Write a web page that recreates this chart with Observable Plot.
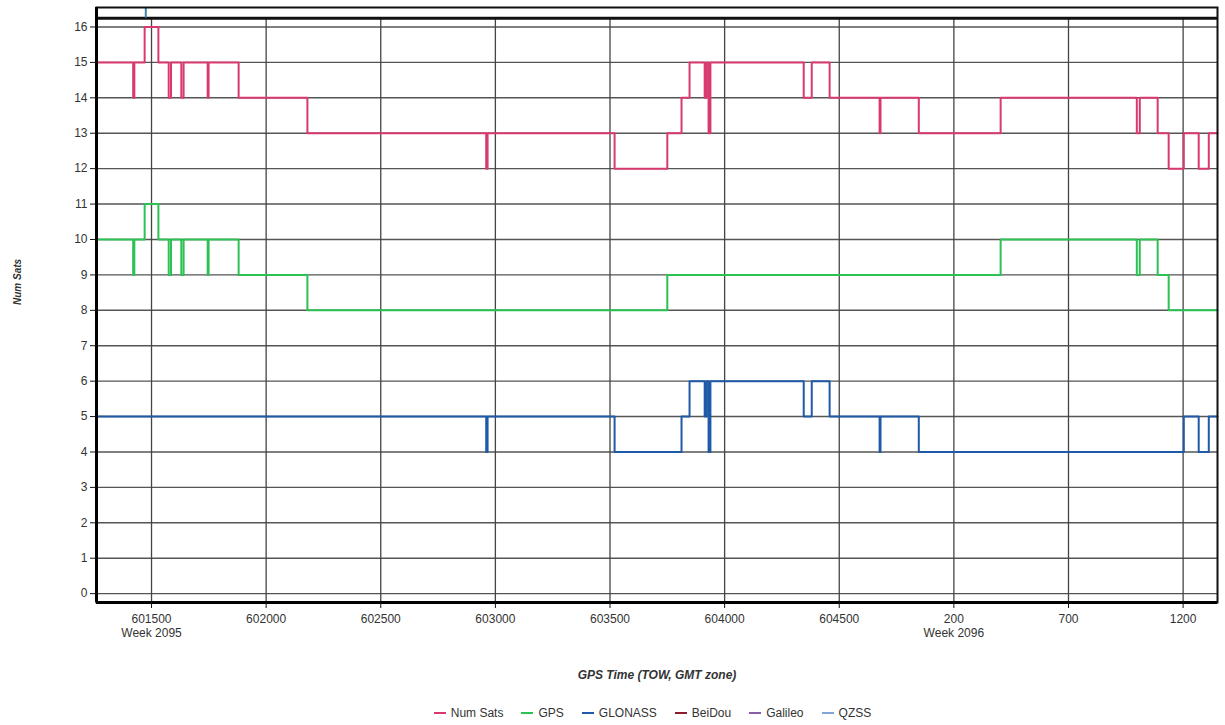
<!DOCTYPE html>
<html><head><meta charset="utf-8">
<script src="https://cdn.jsdelivr.net/npm/d3@7"></script>
<script src="https://cdn.jsdelivr.net/npm/@observablehq/plot@0.6"></script>
<style>
body{margin:0;background:#fff;font-family:"Liberation Sans",Arial,sans-serif;}
#legend{height:25px;display:flex;justify-content:center;align-items:center;font-size:12px;color:#333;gap:18px;padding-left:80px;}
#legend span.sw{display:inline-block;width:12px;height:2px;margin-right:5px;vertical-align:middle;}
</style></head><body>
<div id="chart"></div>
<div id="legend"></div>
<script>
// ---- data (time = seconds of GPS week 2095; values past 604800 belong to week 2096) ----
const seriesNames = ["Num Sats", "GPS", "GLONASS", "BeiDou", "Galileo", "QZSS"];

const numSatsT = [601260,601420,601425,601470,601530,601575,601585,601630,601640,601745,601749,601880,602180,602960,602966,603520,603750,603812,603847,603913,603921,603930,603938,604345,604380,604458,604676,604680,604847,605204,605798,605811,605889,605937,606003,606068,606112,606150];
const numSatsV = [15,14,15,16,15,14,15,14,15,14,15,14,13,12,13,12,13,14,15,14,15,13,15,14,15,14,13,14,13,14,13,14,13,12,13,12,13,13];

const gpsT = [601260,601420,601425,601470,601530,601575,601585,601630,601640,601745,601749,601880,602180,603750,605204,605798,605811,605889,605937,606150];
const gpsV = [10,9,10,11,10,9,10,9,10,9,10,9,8,9,10,9,10,9,8,8];

const glonassT = [601260,602960,602966,603520,603812,603847,603913,603921,603930,603938,604345,604380,604458,604676,604680,604847,606003,606068,606112,606150];
const glonassV = [5,4,5,4,5,6,5,6,4,6,5,6,5,4,5,4,5,4,5,5];

const qzssT = [601475];

const yTicks = [0,1,2,3,4,5,6,7,8,9,10,11,12,13,14,15,16];
const xTicks = [601500,602000,602500,603000,603500,604000,604500,605000,605500,606000];
const xTickLabels = ["601500\nWeek 2095","602000","602500","603000","603500","604000","604500","200\nWeek 2096","700","1200"];

// ---- styles ----
const palette = ["#d93a6e", "#2bc153", "#1f5aa8", "#8a1c2c", "#8b5da6", "#7ea6d6"];
const xDomain = [601260, 606150];
const yDomain = [-0.25, 16.55];
const plotTop = 16.25;

const rows = [];
numSatsT.forEach((t,i)=>rows.push({series:"Num Sats", t, v:numSatsV[i]}));
gpsT.forEach((t,i)=>rows.push({series:"GPS", t, v:gpsV[i]}));
glonassT.forEach((t,i)=>rows.push({series:"GLONASS", t, v:glonassV[i]}));

const labelFor = new Map(xTicks.map((t,i)=>[t, xTickLabels[i]]));

const chart = Plot.plot({
  width: 1225,
  height: 700,
  marginLeft: 96,
  marginRight: 8,
  marginTop: 7,
  marginBottom: 98,
  style: {fontFamily: "'Liberation Sans', Arial, sans-serif", fontSize: "12px", color: "#333", background: "#fff"},
  x: {domain: xDomain, axis: null},
  y: {domain: yDomain, axis: null},
  color: {domain: seriesNames, range: palette},
  marks: [
    Plot.ruleY(yTicks, {stroke: "#555", strokeWidth: 1.4}),
    Plot.ruleX(xTicks, {y1: yDomain[0], y2: plotTop, stroke: "#444", strokeWidth: 1.3}),
    Plot.ruleY([plotTop], {stroke: "#111", strokeWidth: 3}),
    Plot.ruleX(qzssT, {y1: plotTop, y2: yDomain[1], stroke: "#3b86b0", strokeWidth: 2}),
    Plot.line(rows, {x: "t", y: "v", z: "series", stroke: "series", curve: "step-after", strokeWidth: 2}),
    Plot.frame({stroke: "#111", strokeWidth: 2}),
    Plot.ruleY([yDomain[0]], {stroke: "#000", strokeWidth: 3}),
    Plot.ruleX([xDomain[0]], {stroke: "#000", strokeWidth: 3}),
    Plot.axisY(yTicks, {anchor: "left", tickSize: 6, tickPadding: 3, label: null, fill: "#333", stroke: "#111"}),
    Plot.axisX(xTicks, {anchor: "bottom", tickSize: 6, tickPadding: 4, label: null, lineHeight: 1.2,
      tickFormat: d => labelFor.get(d), fill: "#333", stroke: "#111"}),
    Plot.text(["GPS Time (TOW, GMT zone)"], {frameAnchor: "bottom", dy: 76, fontWeight: "bold", fontStyle: "italic", fontSize: 12, fill: "#333"}),
    Plot.text(["Num Sats"], {frameAnchor: "left", dx: -79, rotate: -90, fontWeight: "bold", fontStyle: "italic", fontSize: 10, fill: "#333"})
  ]
});
document.getElementById("chart").appendChild(chart);

const legend = document.getElementById("legend");
seriesNames.forEach((name, i) => {
  const item = document.createElement("span");
  item.innerHTML = `<span class="sw" style="background:${palette[i]}"></span>${name}`;
  legend.appendChild(item);
});
</script>
</body></html>
